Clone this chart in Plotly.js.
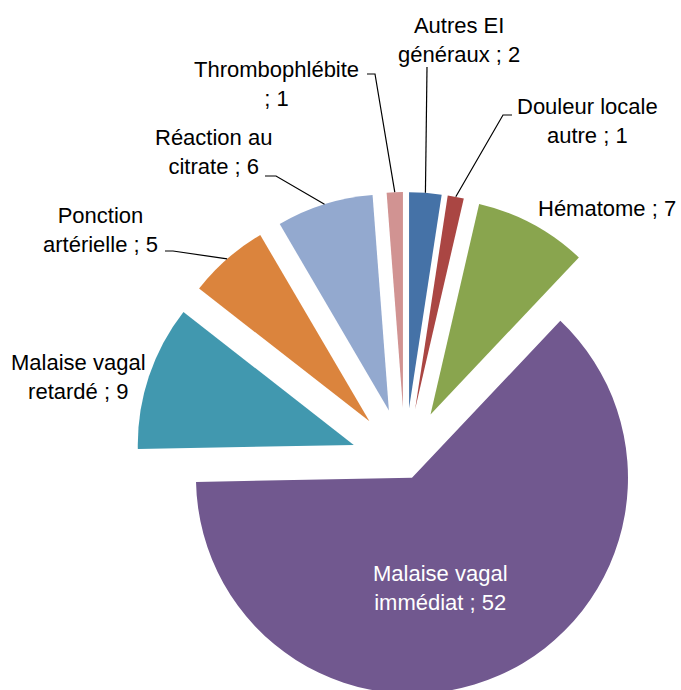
<!DOCTYPE html>
<html>
<head>
<meta charset="utf-8">
<script src="https://cdn.plot.ly/plotly-3.0.1.min.js"></script>
<style>
html, body { margin: 0; padding: 0; overflow: hidden; background: #ffffff; }
#chart { width: 681px; height: 800px; }
</style>
</head>
<body>
<div id="chart"></div>
<script>
// ---- Data (clockwise from 12 o'clock) ----
const categories = [
  "Autres EI généraux",
  "Douleur locale autre",
  "Hématome",
  "Malaise vagal immédiat",
  "Malaise vagal retardé",
  "Ponction artérielle",
  "Réaction au citrate",
  "Thrombophlébite"
];
const values = [2, 1, 7, 52, 9, 5, 6, 1];
const labelLines = [
  ["Autres EI", "généraux ; 2"],
  ["Douleur locale", "autre ; 1"],
  ["Hématome ; 7"],
  ["Malaise vagal", "immédiat ; 52"],
  ["Malaise vagal", "retardé ; 9"],
  ["Ponction", "artérielle ; 5"],
  ["Réaction au", "citrate ; 6"],
  ["Thrombophlébite", "; 1"]
];

// ---- Style ----
const colors = ["#4572A7", "#AA4643", "#89A54E", "#71588F", "#4198AF", "#DB843D", "#93A9CF", "#D19392"];
const pulls = [0.25, 0.25, 0.25, 0.08, 0.25, 0.25, 0.25, 0.25];
const W = 681, H = 800;
const FONT = "Liberation Sans, Arial, sans-serif";

// label placements in pixels (center x, center y), text colour
const labelPos = [
  [459, 40, "#000"],
  [587, 121, "#000"],
  [607, 208, "#000"],
  [440, 588, "#fff"],
  [78, 377, "#000"],
  [101, 230, "#000"],
  [213, 152, "#000"],
  [276, 84, "#000"]
];
// leader line label-side points (pixels), per slice index
const leaders = {
  0: [[427, 67]],
  1: [[512, 115], [503, 115]],
  5: [[165, 251], [173, 251]],
  6: [[265, 176], [276, 176]],
  7: [[367, 74], [375, 74]]
};

const px = x => x / W;
const py = y => 1 - y / H;

const annotations = labelLines.map((lines, i) => ({
  xref: "paper", yref: "paper",
  x: px(labelPos[i][0]), y: py(labelPos[i][1]),
  xanchor: "center", yanchor: "middle",
  text: lines.join("<br>"),
  showarrow: false,
  align: "center",
  font: { family: FONT, size: 22, color: labelPos[i][2] }
}));

const domainX = [135 / W, 675 / W];
const domainY = [68 / H, 608 / H];

const trace = {
  type: "pie",
  labels: categories,
  values: values,
  sort: false,
  direction: "clockwise",
  rotation: 0,
  pull: pulls,
  marker: { colors: colors, line: { width: 0 } },
  textinfo: "none",
  hoverinfo: "skip",
  showlegend: false,
  domain: { x: domainX, y: domainY }
};

const layout = {
  width: W, height: H,
  margin: { l: 0, r: 0, t: 0, b: 0, pad: 0 },
  paper_bgcolor: "#ffffff",
  showlegend: false,
  annotations: annotations
};

Plotly.newPlot("chart", [trace], layout, { staticPlot: true, displayModeBar: false }).then(gd => {
  let cx, cy, r;
  try {
    const cd0 = gd.calcdata[0][0];
    cx = cd0.cx; cy = cd0.cy; r = cd0.r;
  } catch (e) {}
  if (!(r > 0)) {
    const w = W * (domainX[1] - domainX[0]);
    const h = H * (domainY[1] - domainY[0]);
    r = Math.min(w, h) / (2 + 2 * Math.max(...pulls));
    cx = W * (domainX[0] + domainX[1]) / 2;
    cy = H * (1 - (domainY[0] + domainY[1]) / 2);
  }
  const total = values.reduce((a, b) => a + b, 0);
  let cum = 0;
  const outer = values.map((v, i) => {
    const th = 2 * Math.PI * (cum + v / 2) / total;
    cum += v;
    const d = pulls[i] * r;
    const vx = cx + d * Math.sin(th), vy = cy - d * Math.cos(th);
    return [vx + r * Math.sin(th), vy - r * Math.cos(th)];
  });
  const shapes = Object.keys(leaders).map(k => {
    const pts = leaders[k].concat([outer[k]]);
    const path = pts.map((p, j) => (j ? "L" : "M") + px(p[0]).toFixed(5) + "," + py(p[1]).toFixed(5)).join(" ");
    return {
      type: "path", xref: "paper", yref: "paper", path: path,
      line: { color: "#000000", width: 1.2 }
    };
  });
  return Plotly.relayout(gd, { shapes: shapes });
});
</script>
</body>
</html>
